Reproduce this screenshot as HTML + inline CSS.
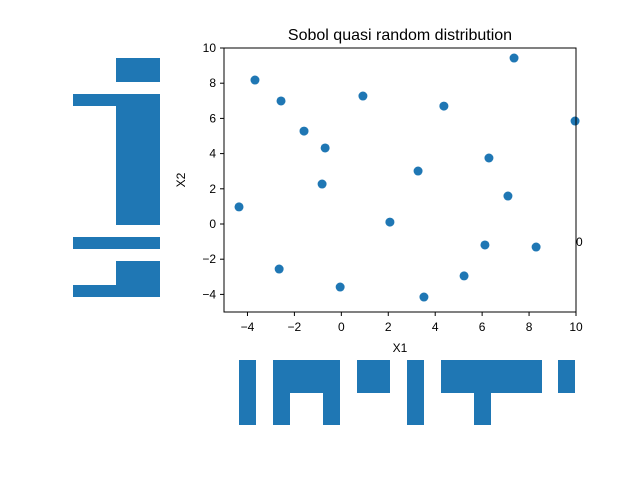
<!DOCTYPE html>
<html><head><meta charset="utf-8"><style>
html,body{margin:0;padding:0;background:#fff;}
svg{display:block;font-family:"Liberation Sans","DejaVu Sans",sans-serif;}
</style></head><body>
<svg id="chart" width="640" height="480" viewBox="0 0 640 480" xmlns="http://www.w3.org/2000/svg">
<rect x="0" y="0" width="640" height="480" fill="#fff"/>
<g id="deco" fill="#1f77b4">
<rect x="116" y="58" width="44" height="24"/>
<rect x="73" y="94" width="87" height="12"/>
<rect x="116" y="106" width="44" height="119"/>
<rect x="73" y="237" width="87" height="12"/>
<rect x="116" y="261" width="44" height="24"/>
<rect x="73" y="285" width="87" height="12"/>
<rect x="239" y="360" width="17" height="65"/>
<rect x="273" y="360" width="67" height="33"/>
<rect x="273" y="393" width="17" height="32"/>
<rect x="323" y="393" width="17" height="32"/>
<rect x="357" y="360" width="33" height="33"/>
<rect x="407" y="360" width="17" height="65"/>
<rect x="441" y="360" width="101" height="33"/>
<rect x="474" y="393" width="17" height="32"/>
<rect x="558" y="360" width="17" height="33"/>
</g>
<text x="400" y="40" font-size="16" text-anchor="middle">Sobol quasi random distribution</text>
<g id="axes"></g>
<g id="points"></g>
<rect x="224" y="48" width="352" height="264" fill="none" stroke="#000" stroke-width="1"/>
<text x="576" y="246" font-size="12">0</text>
<text x="400" y="352" font-size="12" text-anchor="middle">X1</text>
<text x="185" y="180" font-size="12" text-anchor="middle" transform="rotate(-90 185 180)">X2</text>
</svg>
<script>
const xs = [-4.36,-3.68,-2.57,-1.59,-0.69,-0.82,0.92,-2.65,-0.05,2.07,3.27,3.52,4.37,5.23,6.12,6.29,7.10,7.36,8.30,9.96];
const ys = [0.97,8.18,6.99,5.28,4.32,2.27,7.27,-2.56,-3.58,0.11,3.01,-4.15,6.70,-2.95,-1.19,3.75,1.59,9.43,-1.31,5.85];
const xTicks = [-4,-2,0,2,4,6,8,10];
const yTicks = [-4,-2,0,2,4,6,8,10];
const NS='http://www.w3.org/2000/svg';
const X0=224,X1=576,Y0=312,Y1=48;
function sx(v){return X0+(v+5)/15*(X1-X0);}
function sy(v){return Y0-(v+5)/15*(Y0-Y1);}
const axes=document.getElementById('axes');
xTicks.forEach(t=>{
 const l=document.createElementNS(NS,'line');
 l.setAttribute('x1',sx(t));l.setAttribute('x2',sx(t));l.setAttribute('y1',312);l.setAttribute('y2',316);l.setAttribute('stroke','#000');
 
 
 axes.appendChild(l);
 const tx=document.createElementNS(NS,'text');
 tx.setAttribute('x',sx(t));tx.setAttribute('y',331);tx.setAttribute('font-size','12');tx.setAttribute('text-anchor','middle');
 tx.textContent=(t<0?'\u2212'+(-t):t);
 
 
 axes.appendChild(tx);
});
yTicks.forEach(t=>{
 const l=document.createElementNS(NS,'line');
 l.setAttribute('x1',220);l.setAttribute('x2',224);l.setAttribute('y1',sy(t));l.setAttribute('y2',sy(t));l.setAttribute('stroke','#000');
 
 
 axes.appendChild(l);
 const tx=document.createElementNS(NS,'text');
 tx.setAttribute('x',216);tx.setAttribute('y',sy(t)+4);tx.setAttribute('font-size','12');tx.setAttribute('text-anchor','end');
 tx.textContent=(t<0?'\u2212'+(-t):t);
 
 
 axes.appendChild(tx);
});
const pts=document.getElementById('points');
xs.forEach((v,i)=>{
 const c=document.createElementNS(NS,'circle');
 c.setAttribute('cx',sx(v));c.setAttribute('cy',sy(ys[i]));c.setAttribute('r',4.5);c.setAttribute('fill','#1f77b4');
 
 
 pts.appendChild(c);
});
</script>
</body></html>
